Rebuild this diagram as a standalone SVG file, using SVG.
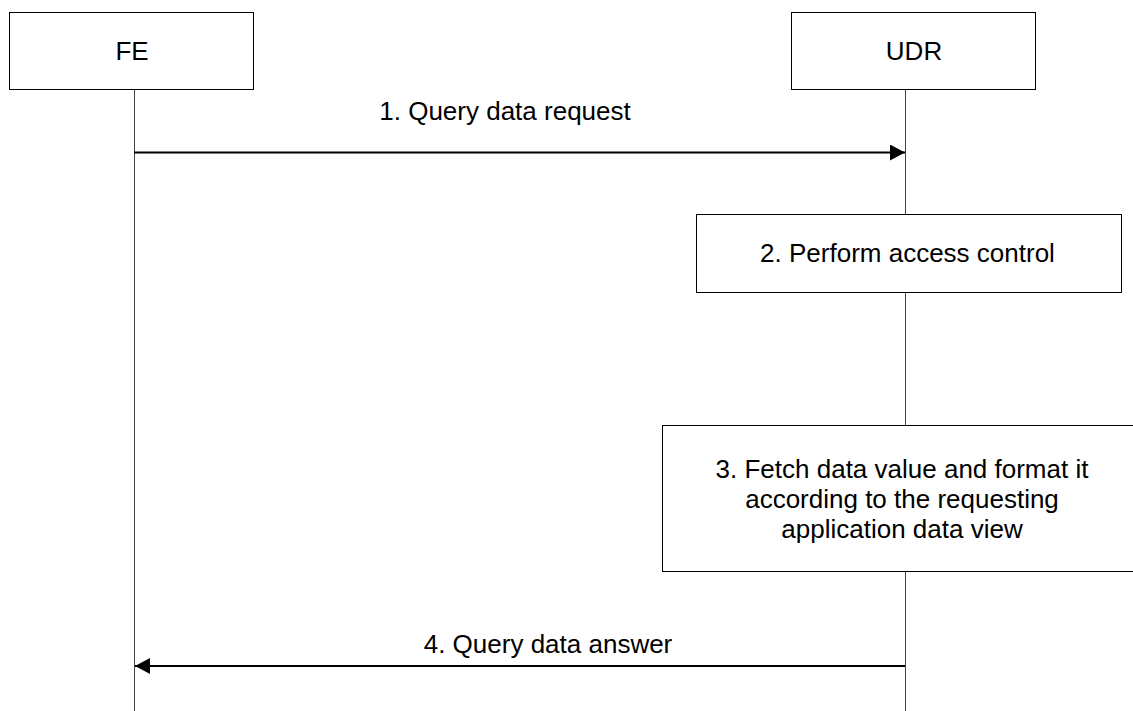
<svg xmlns="http://www.w3.org/2000/svg" width="1133" height="711" viewBox="0 0 1133 711">
<style>
.box{fill:#fff;stroke:#000;stroke-width:1}
.life{stroke:#444;stroke-width:1}
.msg{stroke:#000;stroke-width:2;fill:none}
text{font-family:"Liberation Sans",Arial,sans-serif;font-size:26px;fill:#000;text-anchor:middle}
</style>
<defs>
<marker id="ah" markerWidth="15" markerHeight="16" refX="15" refY="8" orient="auto" markerUnits="userSpaceOnUse">
<path d="M0,0 L15,8 L0,16 Z" fill="#000"/>
</marker>
</defs>
<g id="lifelines">
<line class="life" x1="134.5" y1="89" x2="134.5" y2="711"/>
<line class="life" x1="905.5" y1="89" x2="905.5" y2="711"/>
</g>
<g id="FE">
<rect class="box" x="9.5" y="12.5" width="244" height="77"/>
<text x="132" y="60">FE</text>
</g>
<g id="UDR">
<rect class="box" x="791.5" y="12.5" width="244" height="77"/>
<text x="914" y="60">UDR</text>
</g>
<g id="step2">
<rect class="box" x="696.5" y="214.5" width="425" height="78"/>
<text x="907.5" y="262">2. Perform access control</text>
</g>
<g id="step3">
<rect class="box" x="662.5" y="425.5" width="472" height="146"/>
<text x="902" y="478">3. Fetch data value and format it</text>
<text x="902" y="508">according to the requesting</text>
<text x="902" y="538">application data view</text>
</g>
<g id="connectors">
<line class="msg" x1="134" y1="152.5" x2="905" y2="152.5" marker-end="url(#ah)"/>
<text x="505" y="120">1. Query data request</text>
<line class="msg" x1="905" y1="666" x2="135" y2="666" marker-end="url(#ah)"/>
<text x="548" y="653">4. Query data answer</text>
</g>
</svg>
